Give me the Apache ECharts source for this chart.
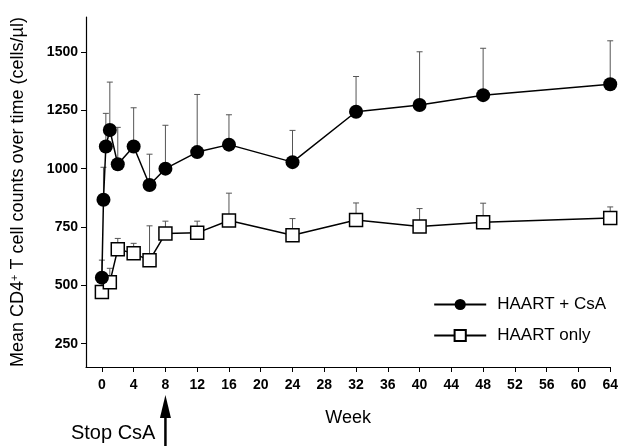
<!DOCTYPE html>
<html>
<head>
<meta charset="utf-8">
<script src="https://cdn.jsdelivr.net/npm/echarts@6/dist/echarts.min.js"></script>
<style>html,body{margin:0;padding:0;background:#fff;}#c{width:621px;height:446px;}</style>
</head>
<body>
<div id="c"></div>
<script>
const weeksCsA = [0, 0.2, 0.5, 1, 2, 4, 6, 8, 12, 16, 24, 32, 40, 48, 64];
const csaMean  = [533, 867, 1095, 1166, 1019, 1095, 930, 1000, 1071, 1103, 1028, 1244, 1273, 1315, 1362];
const csaUpper = [608, 1006, 1237, 1371, 1177, 1261, 1062, 1186, 1318, 1231, 1164, 1395, 1501, 1516, 1548];
const weeksOnly = [0, 1, 2, 4, 6, 8, 12, 16, 24, 32, 40, 48, 64];
const onlyMean  = [471, 513, 655, 637, 607, 722, 725, 778, 715, 780, 752, 770, 789];
const onlyUpper = [null, 573, 701, 680, 755, 775, 775, 895, 786, 853, 829, 852, 836];
const xTicks = [0,4,8,12,16,20,24,28,32,36,40,44,48,52,56,60,64];
const yTicks = [250,500,750,1000,1250,1500];
const stopWeek = 8;

const FONT = '"Liberation Sans", Arial, Helvetica, sans-serif';
const chart = echarts.init(document.getElementById('c'), null, {renderer:'canvas'});

function errData(w, m, u){ const out=[]; for(let i=0;i<w.length;i++){ if(u[i]!=null) out.push([w[i], m[i], u[i]]); } return out; }
function errRender(params, api){
  const p0 = api.coord([api.value(0), api.value(1)]);
  const p1 = api.coord([api.value(0), api.value(2)]);
  return {type:'group', children:[
    {type:'line', shape:{x1:p0[0], y1:p0[1], x2:p1[0], y2:p1[1]}, style:{stroke:'#555', lineWidth:1}},
    {type:'line', shape:{x1:p1[0]-3, y1:p1[1], x2:p1[0]+3, y2:p1[1]}, style:{stroke:'#555', lineWidth:1}}
  ]};
}

chart.setOption({
  backgroundColor:'#fff',
  animation:false,
  grid:{left:86, right:10, top:17, bottom:79},
  legend:{
    orient:'vertical', right:10, top:291, itemGap:14, itemWidth:52, itemHeight:14,
    textStyle:{fontFamily:FONT, fontSize:17, color:'#000', padding:[0,0,0,6]},
    data:['HAART + CsA','HAART only']
  },
  xAxis:{
    type:'value', min:-2, max:64,
    name:'Week', nameLocation:'middle', nameGap:42,
    nameTextStyle:{fontFamily:FONT, fontSize:18, color:'#000'},
    axisLine:{show:true, onZero:false, lineStyle:{color:'#000', width:1.2}},
    axisTick:{show:true, customValues:xTicks, length:5, lineStyle:{color:'#000'}},
    axisLabel:{customValues:xTicks, fontFamily:FONT, fontSize:14, fontWeight:'bold', color:'#000', margin:11},
    splitLine:{show:false}
  },
  yAxis:{
    type:'value', min:150, max:1650,
    name:'Mean CD4{sup|+} T cell counts over time (cells/µl)', nameLocation:'middle', nameGap:59,
    nameTextStyle:{fontFamily:FONT, fontSize:18, color:'#000', rich:{sup:{fontFamily:FONT, fontSize:11, color:'#000', verticalAlign:'top', lineHeight:10}}},
    axisLine:{show:true, onZero:false, lineStyle:{color:'#000', width:1.2}},
    axisTick:{show:true, customValues:yTicks, length:5, lineStyle:{color:'#000'}},
    axisLabel:{customValues:yTicks, formatter:(v)=>String(v), fontFamily:FONT, fontSize:14, fontWeight:'bold', color:'#000', margin:8},
    splitLine:{show:false}
  },
  series:[
    {type:'custom', name:'errCsA', renderItem:errRender, data:errData(weeksCsA, csaMean, csaUpper), z:1, silent:true, encode:{x:0,y:[1,2]}},
    {type:'custom', name:'errOnly', renderItem:errRender, data:errData(weeksOnly, onlyMean, onlyUpper), z:1, silent:true, encode:{x:0,y:[1,2]}},
    {type:'line', name:'HAART only', data:weeksOnly.map((w,i)=>[w, onlyMean[i]]), z:3,
      symbol:'rect', symbolSize:13, showAllSymbol:true,
      lineStyle:{color:'#000', width:1.5}, itemStyle:{color:'#fff', borderColor:'#000', borderWidth:1.5}},
    {type:'line', name:'HAART + CsA', data:weeksCsA.map((w,i)=>[w, csaMean[i]]), z:4,
      symbol:'circle', symbolSize:14, showAllSymbol:true,
      lineStyle:{color:'#000', width:1.5}, itemStyle:{color:'#000', borderColor:'#000', borderWidth:0}}
  ]
});

const px = chart.convertToPixel({xAxisIndex:0}, stopWeek);
chart.setOption({
  graphic:[
    {type:'text', right: 621 - (px - 10), top:423, style:{text:'Stop CsA', font:'20px ' + FONT, fill:'#000', align:'right'}},
    {type:'line', shape:{x1:px, y1:446, x2:px, y2:412}, style:{stroke:'#000', lineWidth:2.5}},
    {type:'polygon', shape:{points:[[px,395],[px-5.5,418],[px+5.5,418]]}, style:{fill:'#000'}}
  ]
});
</script>
</body>
</html>
